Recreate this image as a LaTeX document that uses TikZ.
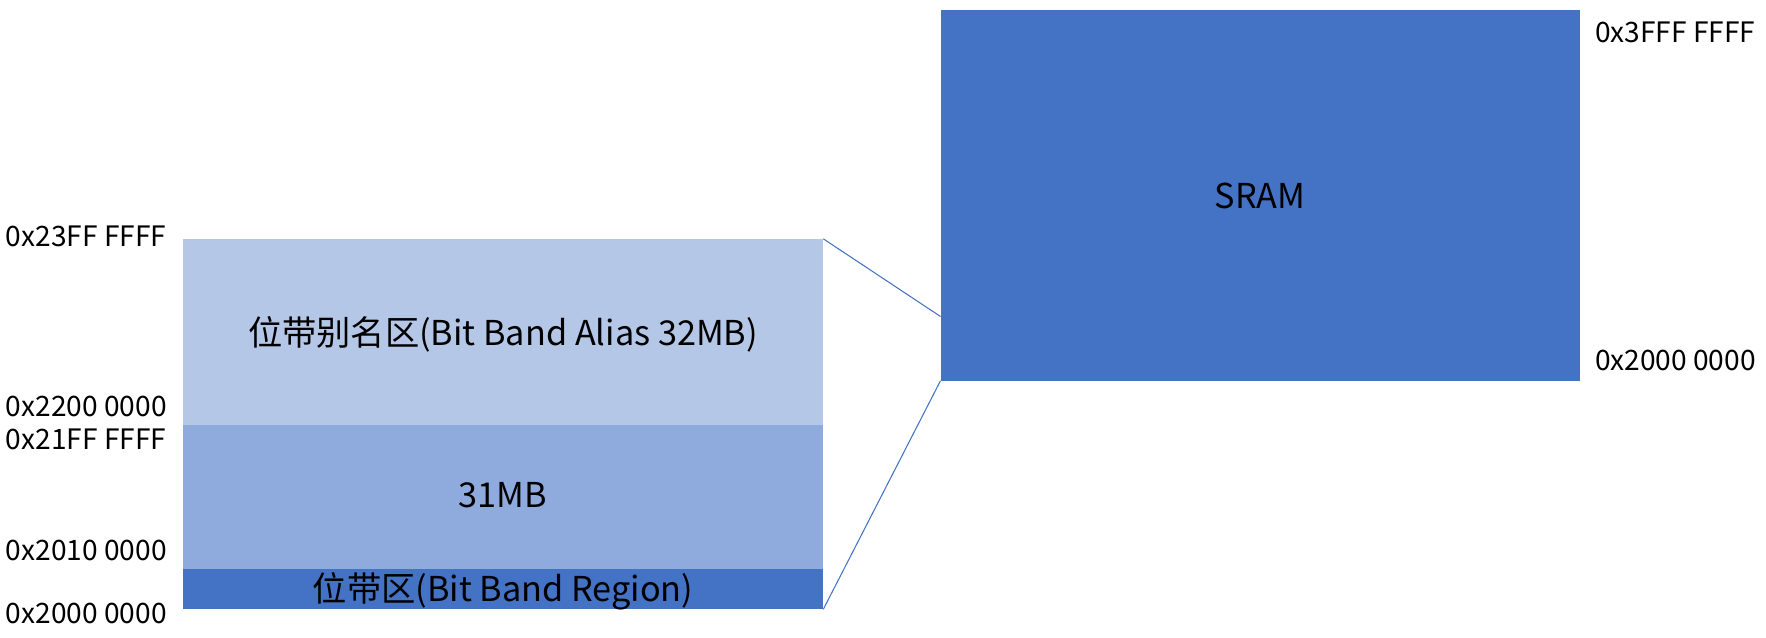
\documentclass[tikz,border=0pt]{standalone}
\usepackage{fontspec}
\setmainfont{Noto Sans CJK SC}
\usepackage{xcolor}
\usepackage{tikz}
\usetikzlibrary{fit}
\definecolor{sramBlue}{HTML}{4472C4}
\definecolor{midBlue}{HTML}{8FAADC}
\definecolor{lightBlue}{HTML}{B4C7E7}

\begin{document}
\begin{tikzpicture}[x=0.02cm, y=-0.02cm,
    region/.style={inner sep=0pt, outer sep=0pt},
    regtext/.style={anchor=base, inner sep=0pt, font=\fontsize{19.5}{23}\selectfont},
    addr/.style={anchor=base west, inner sep=0pt, font=\fontsize{16}{19}\selectfont},
    link/.style={sramBlue, line width=0.6pt}]
        \useasboundingbox (0,0) rectangle (1766,637);
        % ── Bit band memory stack (left)
        \node[region, fill=lightBlue, fit={(182.5,238.8) (823.3,424.6)}] (alias) {};
        \node[region, fill=midBlue, fit={(182.5,424.6) (823.3,568.8)}] (mid) {};
        \node[region, fill=sramBlue, fit={(182.5,568.8) (823.3,609.3)}] (band) {};
        \node[regtext] (aliasText) at (503,345) {位带别名区(Bit Band Alias 32MB)};
        \node[regtext] (midText) at (503,507) {31MB};
        \node[regtext] (bandText) at (503,601) {位带区(Bit Band Region)};
        % ── SRAM block (right)
        \node[region, fill=sramBlue, fit={(940.5,10.1) (1580.2,380.7)}] (sram) {};
        \node[regtext] (sramText) at (1260,208) {SRAM};
        % ── Address labels
        \node[addr] (a23ff) at (5.6,246) {0x23FF FFFF};
        \node[addr] (a2200) at (5.6,416.7) {0x2200 0000};
        \node[addr] (a21ff) at (5.6,449.3) {0x21FF FFFF};
        \node[addr] (a2010) at (5.6,560.7) {0x2010 0000};
        \node[addr] (a2000) at (5.6,623.3) {0x2000 0000};
        \node[addr] (s3fff) at (1594.7,42.7) {0x3FFF FFFF};
        \node[addr] (s2000) at (1594.7,370.7) {0x2000 0000};
        % ── Zoom lines
        \coordinate (sramTap) at (940.5,316.5);
        \draw[link] (alias.north east) -- (sramTap);
        \draw[link] (band.south east) -- (sram.south west);
      \end{tikzpicture}
\end{document}
